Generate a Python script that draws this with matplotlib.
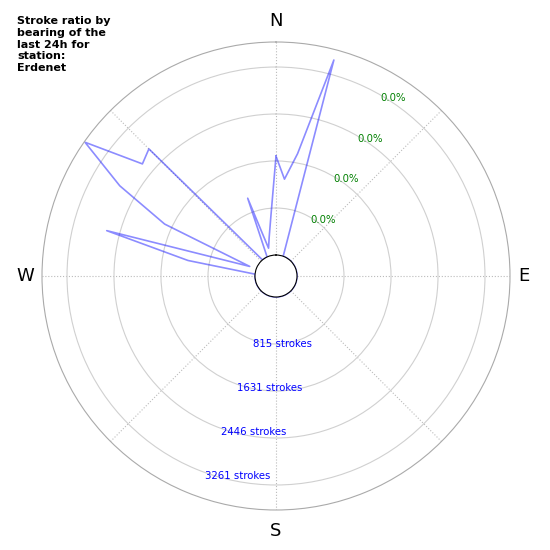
import numpy as np
import matplotlib.pyplot as plt

# stroke counts per 5 degree bearing bin (0 = N, clockwise)
bearings = np.arange(0, 360, 5)
strokes = [1715, 1322, 1790, 3515,
           0, 0, 0, 0, 0, 0, 0, 0, 0, 0, 0, 0, 0,
           0, 0, 0, 0, 0, 0, 0, 0, 0, 0, 0, 0, 0,
           0, 0, 0, 0, 0, 0, 0, 0, 0, 0, 0, 0, 0,
           0, 0, 0, 0, 0, 0, 0, 0, 0, 0, 0, 0, 0,
           1186, 2676, 121, 1767, 2765, 3681, 2661, 2754,
           0, 0, 0, 0, 1072, 135, 317, 665]

ring_values = [815, 1631, 2446, 3261]
ring_labels = ['815 strokes', '1631 strokes', '2446 strokes', '3261 strokes']
pct_labels = ['0.0%', '0.0%', '0.0%', '0.0%']
cardinal_angles = [0, 90, 180, 270]
cardinals = ['N', 'E', 'S', 'W']
title = 'Stroke ratio by\nbearing of the\nlast 24h for\nstation:\nErdenet'

fig = plt.figure(figsize=(5.5, 5.5), dpi=100)
ax = fig.add_axes([42/550, 40/550, 468/550, 468/550], projection='polar')
ax.set_theta_zero_location('N')
ax.set_theta_direction(-1)

# close the polygon
theta = np.deg2rad(np.append(bearings, bearings[0]))
r = np.append(strokes, strokes[0])
ax.plot(theta, r, color='blue', alpha=0.45, lw=1.2)

rmax = 3695
ax.set_rlim(0, rmax)
ax.set_rorigin(-0.0986 * rmax)  # white hole in the middle
ax.set_rticks(ring_values)
ax.set_yticklabels([])
ax.set_thetagrids(range(0, 360, 45), [''] * 8)
ax.xaxis.grid(color='#bbbbbb', linestyle=':', linewidth=0.8)
ax.yaxis.grid(color='#d0d0d0', linestyle='-', linewidth=0.8)
ax.spines['polar'].set_color('#aaaaaa')
ax.spines['inner'].set_color('black')

# compass letters just outside the rim
offs = {'N': (0, 12, 'center', 'bottom'), 'E': (8, 0, 'left', 'center'),
        'S': (0, -12, 'center', 'top'), 'W': (-8, 0, 'right', 'center')}
for ang, lab in zip(cardinal_angles, cardinals):
    dx, dy, ha, va = offs[lab]
    ax.annotate(lab, xy=(np.deg2rad(ang), rmax), xytext=(dx, dy),
                textcoords='offset pixels', ha=ha, va=va, fontsize=13,
                annotation_clip=False)

for v, lab in zip(ring_values, ring_labels):
    ax.annotate(lab, xy=(np.deg2rad(200), v), xytext=(0, -3),
                textcoords='offset pixels', color='blue', fontsize=7.3,
                ha='left', va='center_baseline')
for v, lab in zip(ring_values, pct_labels):
    ax.annotate(lab, xy=(np.deg2rad(30), v), xytext=(0, -2),
                textcoords='offset pixels', color='green', fontsize=7.3,
                ha='left', va='center_baseline')

fig.text(17/550, 1 - 16.5/550, title, fontsize=8, fontweight='bold',
         ha='left', va='top')

fig.savefig('out.png')
